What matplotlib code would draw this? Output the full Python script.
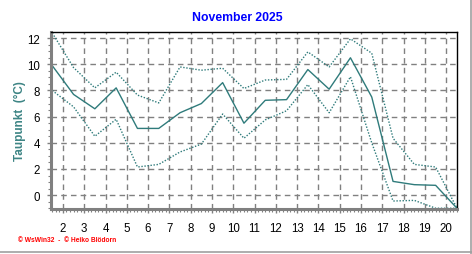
"""
Taupunkt November 2025 - WsWin style line chart
"""

import matplotlib
matplotlib.use('Agg')
import matplotlib.pyplot as plt
from matplotlib.lines import Line2D
from matplotlib.ticker import MultipleLocator
import numpy as np

plt.rcParams['font.family'] = ['Liberation Sans', 'DejaVu Sans']

# daily values, plotted at the middle of each day
days = np.arange(1.5, 21.0, 1.0)
dew_mean = [9.9, 7.7, 6.6, 8.2, 5.1, 5.1, 6.3, 7.0, 8.6, 5.5,
            7.25, 7.3, 9.6, 8.1, 10.5, 7.5, 1.05, 0.8, 0.75, -1.0]
dew_max = [12.4, 9.75, 8.2, 9.4, 7.65, 7.05, 9.8, 9.55, 9.7, 8.15,
           8.8, 8.85, 10.95, 9.8, 11.95, 10.85, 4.35, 2.35, 2.15, -1.0]
dew_min = [8.0, 6.75, 4.5, 5.8, 2.15, 2.35, 3.3, 3.9, 6.2, 4.35,
           5.75, 6.45, 8.45, 6.3, 9.05, 4.0, -0.45, -0.4, -1.0, -1.0]

x_ticks = list(range(2, 21))
title = 'November 2025'
ylabel = 'Taupunkt  (°C)'
footer = '© WsWin32  -  © Heiko Blödorn'

LINE = '#2F7B7B'
GRID = '#808080'

fig = plt.figure(figsize=(4.72, 2.55), dpi=100)
ax = fig.add_axes([0.108, 0.178, 0.861, 0.691])

ax.plot(days, dew_mean, color=LINE, lw=1.0)
ax.plot(days, dew_max, color=LINE, lw=1.0, ls=(0, (1, 1.2)))
ax.plot(days, dew_min, color=LINE, lw=1.0, ls=(0, (1, 1.2)))

ax.set_xlim(1.44, 20.52)
ax.set_ylim(-1.03, 12.44)

ax.set_xticks(x_ticks)
ax.xaxis.set_minor_locator(MultipleLocator(1 / 6))
ax.yaxis.set_major_locator(MultipleLocator(2))
ax.yaxis.set_minor_locator(MultipleLocator(0.5))
ax.set_yticks(range(0, 13, 2))

ax.tick_params(axis='both', which='major', direction='out', length=3,
               width=1, color=GRID, labelsize=8.3, pad=5)
ax.tick_params(axis='both', which='minor', direction='out', length=2,
               width=0.8, color=GRID)
ax.tick_params(axis='x', which='major', pad=7)

ax.grid(True, which='major', color=GRID, ls=(0, (4, 3)), lw=1.0)
ax.set_axisbelow(True)

for side in ['left', 'bottom']:
    ax.spines[side].set_color(GRID)
    ax.spines[side].set_linewidth(2.2)
for side in ['top', 'right']:
    ax.spines[side].set_color('black')
    ax.spines[side].set_linewidth(1.0)

ax.set_ylabel(ylabel, color='#3E8585', fontsize=8.5, fontweight='bold', labelpad=1)

fig.text(0.502, 0.93, title, color='#0000FF', fontsize=8.8, fontweight='bold',
         ha='center', va='center')
fig.text(0.038, 0.058, footer, color='#FF0000', fontsize=4.8, fontweight='bold',
         ha='left', va='center')

# grey frame on the bottom and right
fig.add_artist(Line2D([0, 1], [0.006, 0.006], color='#A0A0A0', lw=1.2,
                      transform=fig.transFigure))
fig.add_artist(Line2D([0.997, 0.997], [0, 1], color='#A0A0A0', lw=1.2,
                      transform=fig.transFigure))

fig.savefig('out.png', dpi=100, facecolor='white')
